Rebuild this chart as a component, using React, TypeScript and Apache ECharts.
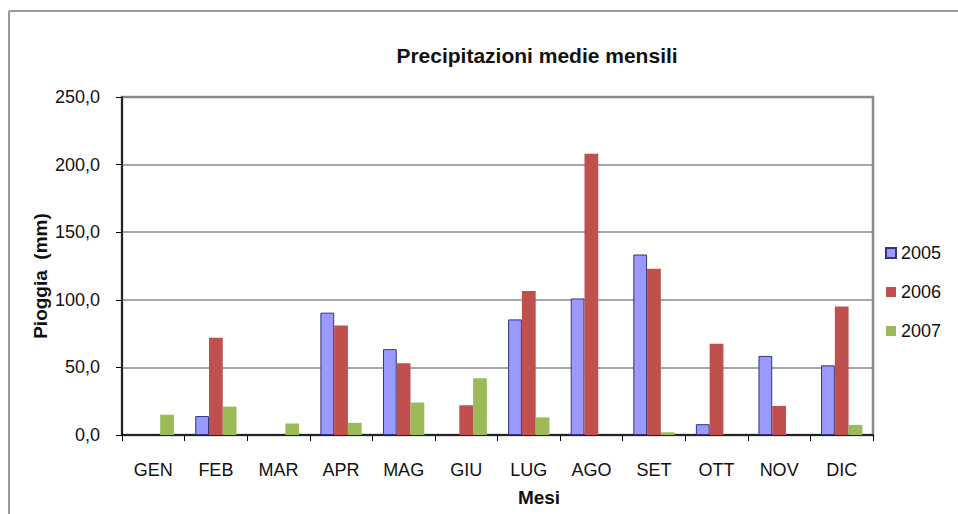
import React, { useEffect, useRef } from "react";
import * as echarts from "echarts";

const months = ["GEN", "FEB", "MAR", "APR", "MAG", "GIU", "LUG", "AGO", "SET", "OTT", "NOV", "DIC"];
const rain2005 = [null, 14, null, 90.5, 63.5, null, 85.5, 101, 133.5, 8, 58.5, 51.5];
const rain2006 = [null, 72, null, 81, 53, 22, 106.5, 208, 123, 67.5, 21.5, 95];
const rain2007 = [15, 21, 8.5, 9, 24, 42, 13, null, 2, null, null, 7.5];
const seriesNames = ["2005", "2006", "2007"];
const yTicks = { min: 0, max: 250, interval: 50 };

const FONT = "'Liberation Sans', Arial, sans-serif";

export default function App() {
  const ref = useRef<HTMLDivElement>(null);
  useEffect(() => {
    if (!ref.current) return;
    const chart = echarts.init(ref.current, null, { renderer: "svg" });
    chart.setOption({
      animation: false,
      backgroundColor: "#ffffff",
      textStyle: { fontFamily: FONT },
      grid: {
        left: 122,
        right: 85,
        top: 97,
        bottom: 79,
        show: true,
        borderColor: "#8a8a8a",
        borderWidth: 2.5,
        backgroundColor: "transparent",
      },
      legend: {
        orient: "vertical",
        left: 885,
        top: 243,
        padding: 0,
        itemWidth: 10,
        itemHeight: 10,
        itemGap: 19,
        icon: "rect",
        textStyle: { fontSize: 18, color: "#111", fontFamily: FONT, lineHeight: 20 },
        data: seriesNames,
      },
      xAxis: {
        type: "category",
        data: months,
        axisLine: { lineStyle: { color: "#000", width: 1.5 } },
        axisTick: { show: true, length: 6, lineStyle: { color: "#000" } },
        axisLabel: { fontSize: 18, color: "#111", margin: 26, fontFamily: FONT },
      },
      yAxis: {
        type: "value",
        min: yTicks.min,
        max: yTicks.max,
        interval: yTicks.interval,
        axisLine: { show: true, lineStyle: { color: "#000", width: 1.5 } },
        axisTick: { show: true, length: 6, lineStyle: { color: "#000" } },
        axisLabel: {
          fontSize: 18,
          color: "#111",
          margin: 22,
          fontFamily: FONT,
          formatter: (v: number) => v.toFixed(1).replace(".", ","),
        },
        splitLine: { show: true, lineStyle: { color: "#8a8a8a", width: 1.5 } },
      },
      series: [
        {
          name: seriesNames[0],
          type: "bar",
          data: rain2005,
          barGap: "0%",
          barCategoryGap: "34%",
          itemStyle: { color: "#9999FF", borderColor: "#35357a", borderWidth: 1 },
        },
        {
          name: seriesNames[1],
          type: "bar",
          data: rain2006,
          barGap: "0%",
          barCategoryGap: "34%",
          itemStyle: { color: "#C0504D" },
        },
        {
          name: seriesNames[2],
          type: "bar",
          data: rain2007,
          barGap: "0%",
          barCategoryGap: "34%",
          itemStyle: { color: "#9BBB59" },
        },
      ],
      graphic: [
        { type: "line", shape: { x1: 9, y1: 11, x2: 958, y2: 11 }, style: { stroke: "#9a9a9a", lineWidth: 2 } },
        { type: "line", shape: { x1: 9, y1: 11, x2: 9, y2: 514 }, style: { stroke: "#9a9a9a", lineWidth: 2 } },
        {
          type: "text",
          x: 537,
          y: 55,
          style: {
            text: "Precipitazioni medie mensili",
            fontSize: 21,
            fontWeight: "bold",
            fontFamily: FONT,
            fill: "#111",
            align: "center",
            verticalAlign: "middle",
          },
        },
        {
          type: "text",
          x: 539,
          y: 497,
          style: {
            text: "Mesi",
            fontSize: 19,
            fontWeight: "bold",
            fontFamily: FONT,
            fill: "#111",
            align: "center",
            verticalAlign: "middle",
          },
        },
        {
          type: "text",
          x: 40,
          y: 276,
          rotation: Math.PI / 2,
          style: {
            text: "Pioggia  (mm)",
            fontSize: 19,
            fontWeight: "bold",
            fontFamily: FONT,
            fill: "#111",
            align: "center",
            verticalAlign: "middle",
          },
        },
      ],
    });
    return () => chart.dispose();
  }, []);
  return <div ref={ref} style={{ position: "absolute", left: 0, top: 0, width: 958, height: 514 }} />;
}
